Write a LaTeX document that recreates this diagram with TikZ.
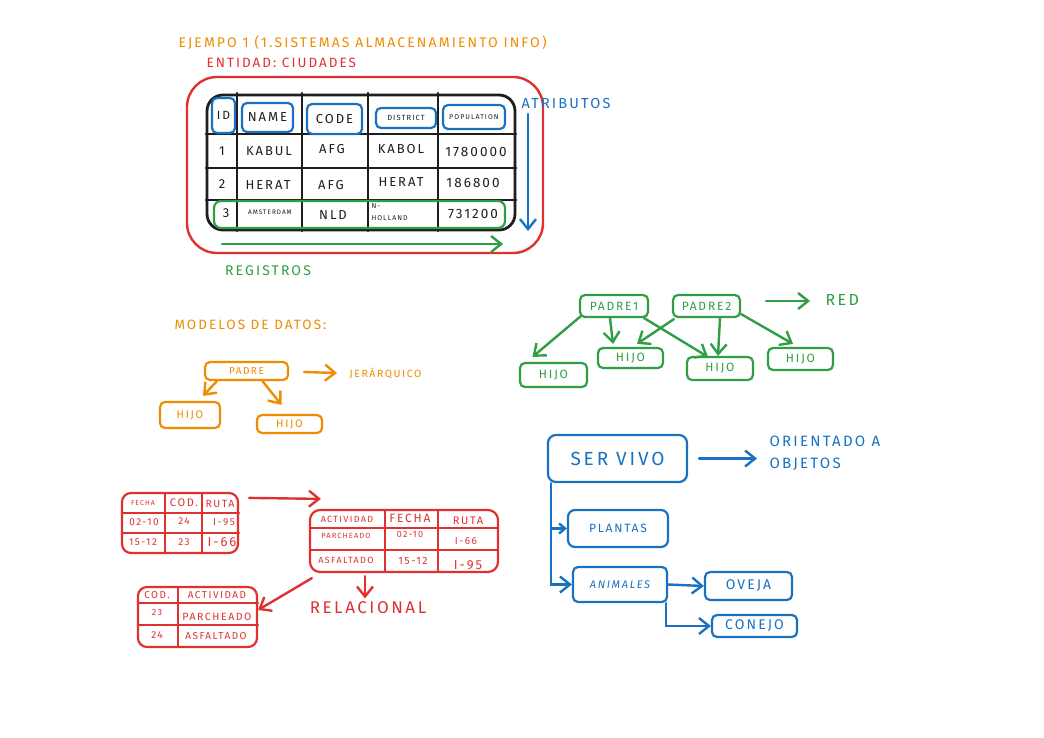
\documentclass[tikz,border=0pt]{standalone}
\usepackage{fontspec}
\setmainfont{Fira Sans}[LetterSpace=15]
\usetikzlibrary{arrows.meta,positioning}

\definecolor{exorange}{HTML}{F08C00}
\definecolor{exred}{HTML}{E03131}
\definecolor{exblue}{HTML}{1971C2}
\definecolor{exgreen}{HTML}{2F9E44}
\definecolor{exblack}{HTML}{1E1E1E}

\newcommand{\txtsize}[1]{\fontsize{#1}{#1}\selectfont}

\tikzset{
    box/.style={draw, rounded corners=5pt, line width=2.2pt, inner sep=0pt},
    arr/.style={-{Straight Barb[length=10pt,width=16pt]}, line width=2.4pt, line cap=round},
    grid/.style={line width=2.6pt, line cap=round},
}

\begin{document}
\begin{tikzpicture}[x=1pt,y=-1pt]
    \useasboundingbox[fill=white] (0,0) rectangle (1044,738);

    % Entidad
    \node[exorange, anchor=west, font=\txtsize{14}] (title) at (175,43) {EJEMPO 1 (1.SISTEMAS ALMACENAMIENTO INFO)};
    \node[exred, anchor=west, font=\txtsize{13.5}] (entidad) at (203,63) {ENTIDAD: CIUDADES};
    \node[box, exred, line width=2.4pt, rounded corners=30pt, minimum width=356pt, minimum height=176pt] (entity) at (365,165) {};
    \node[box, exblack, line width=2.8pt, rounded corners=16pt, minimum width=308pt, minimum height=135pt] (city) at (361,162.5) {};
    \foreach \cx in {237,302,368,438} \draw[grid, exblack] (\cx,93) -- (\cx,231);
    \foreach \ry in {134,168,200} \draw[grid, exblack] (206,\ry) -- (516,\ry);

    \node[box, exblue, text=exblack, minimum width=23pt, minimum height=35pt, font=\txtsize{12}] (hId) at (223.5,115.5) {ID};
    \node[box, exblue, text=exblack, minimum width=51pt, minimum height=29pt, font=\txtsize{13}] (hName) at (267.5,117.5) {NAME};
    \node[box, exblue, text=exblack, minimum width=55pt, minimum height=30pt, font=\txtsize{13}] (hCode) at (334.5,119) {CODE};
    \node[box, exblue, text=exblack, minimum width=60pt, minimum height=20pt, font=\txtsize{7.5}] (hDistrict) at (406,118) {DISTRICT};
    \node[box, exblue, text=exblack, minimum width=62pt, minimum height=24pt, font=\txtsize{7}] (hPop) at (474,117) {POPULATION};

    \node[box, exgreen, rounded corners=7pt, minimum width=291pt, minimum height=27pt] (row3) at (359.5,214.5) {};

    \node[exblack, font=\txtsize{13}] (c1a) at (222,151) {1};
    \node[exblack, font=\txtsize{13}] (c1b) at (269,151) {KABUL};
    \node[exblack, font=\txtsize{13}] (c1c) at (332,149) {AFG};
    \node[exblack, font=\txtsize{13}] (c1d) at (401,149) {KABOL};
    \node[exblack, font=\txtsize{13.5}] (c1e) at (476,152) {1780000};
    \node[exblack, font=\txtsize{13}] (c2a) at (222,184) {2};
    \node[exblack, font=\txtsize{13}] (c2b) at (268,185) {HERAT};
    \node[exblack, font=\txtsize{13}] (c2c) at (331,185) {AFG};
    \node[exblack, font=\txtsize{13}] (c2d) at (401,182) {HERAT};
    \node[exblack, font=\txtsize{13.5}] (c2e) at (473,183) {186800};
    \node[exblack, font=\txtsize{13}] (c3a) at (226,213) {3};
    \node[exblack, font=\txtsize{6.5}] (c3b) at (270,212) {AMSTERDAM};
    \node[exblack, font=\txtsize{13}] (c3c) at (333,215) {NLD};
    \node[exblack, font=\fontsize{7}{12}\selectfont, anchor=west, align=left] (c3d) at (368,212) {N-\\HOLLAND};
    \node[exblack, font=\txtsize{13.5}] (c3e) at (473,214) {731200};

    \node[exblue, font=\txtsize{14.5}] (atrib) at (566,104) {ATRIBUTOS};
    \coordinate (atrA) at (528,114);
    \coordinate (atrB) at (528,231);
    \draw[arr, exblue] (atrA) -- (atrB);

    \coordinate (regA) at (222,244);
    \coordinate (regB) at (503,244);
    \draw[arr, exgreen] (regA) -- (regB);
    \node[exgreen, font=\txtsize{14}] (regis) at (268,271) {REGISTROS};

    % Jerarquico
    \node[exorange, anchor=west, font=\txtsize{13.5}] (modelos) at (171,325) {MODELOS DE DATOS:};
    \node[box, exorange, minimum width=83pt, minimum height=18pt, font=\txtsize{10}] (padre) at (246.5,371) {PADRE};
    \node[box, exorange, minimum width=60pt, minimum height=26pt, font=\txtsize{11}] (hijoL) at (190,415) {HIJO};
    \node[box, exorange, minimum width=65pt, minimum height=18pt, font=\txtsize{11}] (hijoR) at (289.5,424) {HIJO};
    \node[exorange, anchor=west, font=\txtsize{10.5}] (jer) at (346,373) {JERÁRQUICO};
    \draw[arr, exorange] ([xshift=13pt]padre.south west) -- ([xshift=13pt,yshift=5pt]hijoL.north);
    \draw[arr, exorange] ([xshift=16pt]padre.south) -- ([xshift=-8pt,yshift=9pt]hijoR.north);
    \draw[arr, exorange] ([xshift=15pt,yshift=-1pt]padre.east) -- ([xshift=-9pt]jer.west);

    % Red
    \node[box, exgreen, minimum width=68pt, minimum height=22pt, font=\txtsize{12}] (padreA) at (614,306) {PADRE1};
    \node[box, exgreen, minimum width=67pt, minimum height=22pt, font=\txtsize{12}] (padreB) at (706.5,306) {PADRE2};
    \node[box, exgreen, minimum width=67pt, minimum height=24pt, font=\txtsize{12}] (hijoA) at (553.5,375) {HIJO};
    \node[box, exgreen, minimum width=65pt, minimum height=20pt, font=\txtsize{12}] (hijoB) at (630.5,358) {HIJO};
    \node[box, exgreen, minimum width=66pt, minimum height=23pt, font=\txtsize{12}] (hijoC) at (720,368.5) {HIJO};
    \node[box, exgreen, minimum width=65pt, minimum height=22pt, font=\txtsize{12}] (hijoD) at (800.5,359) {HIJO};
    \node[exgreen, anchor=west, font=\txtsize{16}] (red) at (822,300) {RED};
    \draw[arr, exgreen] ([xshift=25pt,yshift=5pt]padreB.east) -- ([xshift=-12pt,yshift=-1pt]red.west);
    \draw[arr, exgreen] ([xshift=2pt,yshift=2pt]padreA.south west) -- ([xshift=-21pt,yshift=5pt]hijoA.north);
    \draw[arr, exgreen] ([xshift=-4pt]padreA.south) -- ([xshift=-17.5pt,yshift=3pt]hijoB.north);
    \draw[arr, exgreen] ([xshift=-5pt]padreA.south east) -- ([xshift=-12pt,yshift=-1pt]hijoC.north);
    \draw[arr, exgreen] ([xshift=2pt,yshift=-1pt]padreB.south west) -- ([xshift=6.5pt,yshift=3pt]hijoB.north);
    \draw[arr, exgreen] ([xshift=13.5pt]padreB.south) -- ([xshift=-2pt]hijoC.north);
    \draw[arr, exgreen] ([yshift=4pt]padreB.south east) -- ([xshift=-7.5pt,yshift=3pt]hijoD.north);

    % Orientado a objetos
    \node[box, exblue, rounded corners=8pt, minimum width=139pt, minimum height=47pt, font=\txtsize{19}] (serVivo) at (617.5,458.5) {SER VIVO};
    \node[exblue, anchor=west, align=left, font=\fontsize{15}{22}\selectfont] (objetos) at (766,453) {ORIENTADO A\\OBJETOS};
    \node[box, exblue, rounded corners=7pt, minimum width=100pt, minimum height=37pt, font=\txtsize{12}] (plantas) at (618,528.5) {PLANTAS};
    \node[box, exblue, minimum width=94pt, minimum height=35pt, font=\itshape\txtsize{11}] (animales) at (620,584.5) {ANIMALES};
    \node[box, exblue, minimum width=87pt, minimum height=28pt, font=\txtsize{14}] (oveja) at (748.5,586) {OVEJA};
    \node[box, exblue, minimum width=85pt, minimum height=22pt, font=\txtsize{14}] (conejo) at (754.5,626) {CONEJO};
    \draw[arr, exblue] ([xshift=11pt]serVivo.east) -- ([xshift=-9pt]serVivo.east -| objetos.west);
    \draw[arr, exblue] ([xshift=4pt]serVivo.south west) |- (animales.west);
    \draw[arr, exblue, -{Straight Barb[length=6pt,width=10pt]}] ([xshift=4pt]serVivo.south west |- plantas.west) -- (plantas.west);
    \draw[arr, exblue] (animales.east) -- (oveja.west);
    \draw[arr, exblue] ([xshift=-2pt]animales.south east) |- (conejo.west);

    % Relacional
    \node[box, exred, rounded corners=9pt, minimum width=116pt, minimum height=60pt] (tabA) at (180,523) {};
    \foreach \cx in {165,202} \draw[grid, exred, line width=2.2pt] (\cx,493) -- (\cx,553);
    \foreach \ry in {513,533} \draw[grid, exred, line width=2.2pt] (122,\ry) -- (239,\ry);
    \node[exred, font=\txtsize{7}] (a11) at (143,503) {FECHA};
    \node[exred, font=\txtsize{11}] (a12) at (184,503) {COD.};
    \node[exred, font=\txtsize{10.5}] (a13) at (220,504) {RUTA};
    \node[exred, font=\txtsize{10}] (a21) at (144,522) {02-10};
    \node[exred, font=\txtsize{10}] (a22) at (184,521) {24};
    \node[exred, font=\txtsize{10}] (a23) at (224,522) {I-95};
    \node[exred, font=\txtsize{10}] (a31) at (143,542) {15-12};
    \node[exred, font=\txtsize{10}] (a32) at (184,542) {23};
    \node[exred, font=\txtsize{13}] (a33) at (222,542) {I-66};

    \node[box, exred, rounded corners=10pt, minimum width=188pt, minimum height=62pt] (tabB) at (404,541) {};
    \foreach \cx in {385,438} \draw[grid, exred, line width=2.2pt] (\cx,510) -- (\cx,572);
    \foreach \ry in {528,550} \draw[grid, exred, line width=2.2pt] (310,\ry) -- (498,\ry);
    \node[exred, font=\txtsize{9}] (b11) at (347,519) {ACTIVIDAD};
    \node[exred, font=\txtsize{12}] (b12) at (410,518) {FECHA};
    \node[exred, font=\txtsize{11}] (b13) at (468,521) {RUTA};
    \node[exred, font=\txtsize{7.5}] (b21) at (346,536) {PARCHEADO};
    \node[exred, font=\txtsize{9}] (b22) at (410,534) {02-10};
    \node[exred, font=\txtsize{10}] (b23) at (466,541) {I-66};
    \node[exred, font=\txtsize{9}] (b31) at (346,560) {ASFALTADO};
    \node[exred, font=\txtsize{10.5}] (b32) at (413,561) {15-12};
    \node[exred, font=\txtsize{13}] (b33) at (468,565) {I-95};

    \node[box, exred, rounded corners=9pt, minimum width=119pt, minimum height=60pt] (tabC) at (197.5,617) {};
    \draw[grid, exred, line width=2.2pt] (178,587) -- (178,647);
    \foreach \ry in {603,625} \draw[grid, exred, line width=2.2pt] (138,\ry) -- (258,\ry);
    \node[exred, font=\txtsize{10}] (c11) at (157,595) {COD.};
    \node[exred, font=\txtsize{10}] (c12) at (217,595) {ACTIVIDAD};
    \node[exred, font=\txtsize{9}] (c21) at (157,612) {23};
    \node[exred, font=\txtsize{10.5}] (c22) at (217,617) {PARCHEADO};
    \node[exred, font=\txtsize{10}] (c31) at (157,635) {24};
    \node[exred, font=\txtsize{10}] (c32) at (216,636) {ASFALTADO};

    \node[exred, font=\txtsize{17}] (relacional) at (368,608) {RELACIONAL};
    \draw[arr, exred] ([xshift=10pt,yshift=-6pt]tabA.north east) -- ([xshift=12pt,yshift=10pt]tabB.north west);
    \draw[arr, exred] ([xshift=-39pt,yshift=-3pt]tabB.south) -- ([xshift=-3pt]relacional.north);
    \draw[arr, exred] ([xshift=3pt,yshift=-5pt]tabB.south west) -- ([yshift=7pt]tabC.east);
\end{tikzpicture}
\end{document}
